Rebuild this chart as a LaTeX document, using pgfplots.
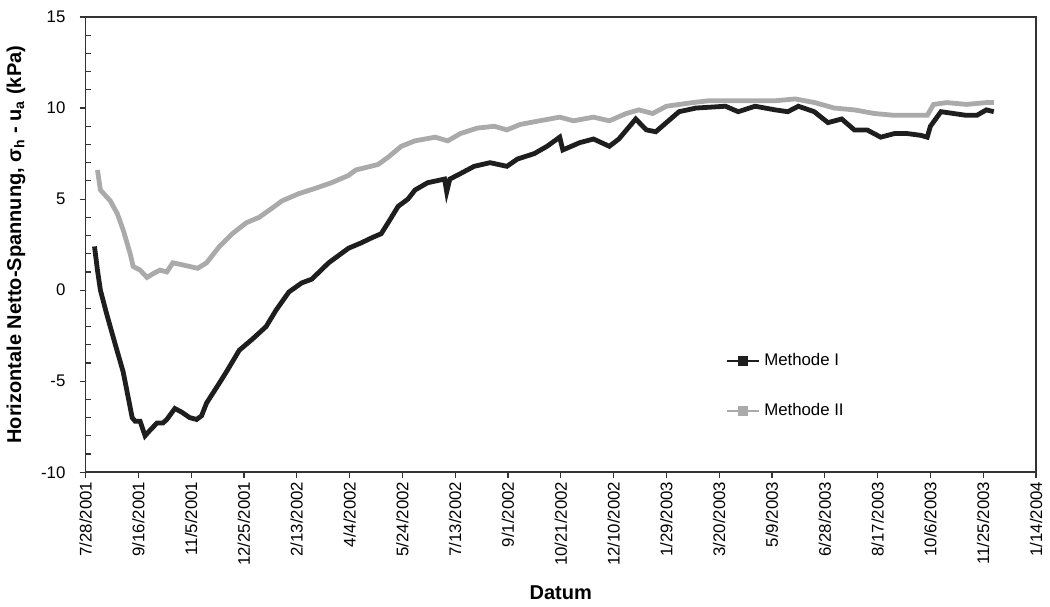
\documentclass[border=0pt]{standalone}
\usepackage{fontspec}
\setmainfont{Liberation Sans}
\usepackage{pgfplots}
\pgfplotsset{compat=1.18}

\definecolor{meth1}{RGB}{30,30,30}
\definecolor{meth2}{RGB}{170,170,170}

% x = Tage ab 28.7.2001
\pgfplotstableread{
day val
8.5 2.4
11.3 1.1
14.1 0.0
20 -1.3
26.3 -2.6
35.7 -4.5
44.2 -7.0
47 -7.2
51.7 -7.2
56.4 -8.0
61 -7.7
67.6 -7.3
73.3 -7.3
77 -7.1
84.6 -6.5
91.1 -6.7
98.6 -7.0
105.2 -7.1
109.9 -6.9
114.6 -6.2
126.8 -5.1
134.3 -4.4
145.6 -3.3
157.8 -2.7
171 -2.0
180.4 -1.1
192.6 -0.1
204.8 0.4
214.2 0.6
230.2 1.5
249 2.3
261.2 2.6
272 2.9
280 3.1
286.5 3.7
296 4.6
305.3 5.0
312 5.5
324 5.9
340 6.1
342 5.4
345 6.1
355 6.4
368 6.8
383 7.0
399 6.8
409 7.2
425 7.5
437 7.9
449 8.4
452 7.7
456 7.8
468 8.1
481 8.3
496 7.9
505 8.3
521 9.4
531 8.8
540 8.7
550 9.2
562 9.8
578 10.0
606 10.1
618 9.8
634 10.1
653 9.9
665 9.8
675 10.1
690 9.8
703 9.2
716 9.4
728 8.8
740 8.8
753 8.4
766 8.6
778 8.6
791 8.5
797 8.4
800 9.0
810 9.8
822 9.7
834 9.6
844 9.6
853 9.9
860 9.8
}\methodeI

\pgfplotstableread{
day val
11.3 6.6
14.1 5.5
23.5 4.9
30.1 4.2
35.7 3.3
42.3 2.0
45.1 1.3
51.7 1.1
58.2 0.7
63.9 0.9
70.5 1.1
77 1.0
82.7 1.5
91.1 1.4
98.6 1.3
106.2 1.2
114.6 1.5
126.8 2.4
139 3.1
152.2 3.7
164.4 4.0
176.6 4.5
186 4.9
202 5.3
218 5.6
233 5.9
249 6.3
256 6.6
277 6.9
286.5 7.3
299 7.9
312 8.2
331 8.4
343 8.2
355 8.6
371 8.9
387 9.0
399 8.8
411.5 9.1
430 9.3
449 9.5
462 9.3
481 9.5
496 9.3
512 9.7
524 9.9
537 9.7
550 10.1
575 10.3
590 10.4
622 10.4
653 10.4
672 10.5
690.5 10.3
709 10.0
728 9.9
747 9.7
766 9.6
784 9.6
797 9.6
803 10.2
815.5 10.3
834 10.2
853 10.3
860 10.3
}\methodeII

\begin{document}
\begin{tikzpicture}
\begin{axis}[
    scale only axis,
    width=475pt,
    height=227.5pt,
    xmin=0, xmax=900,
    ymin=-10, ymax=15,
    xtick={0,50,...,900},
    xticklabels={7/28/2001,9/16/2001,11/5/2001,12/25/2001,2/13/2002,4/4/2002,5/24/2002,7/13/2002,9/1/2002,10/21/2002,12/10/2002,1/29/2003,3/20/2003,5/9/2003,6/28/2003,8/17/2003,10/6/2003,11/25/2003,1/14/2004},
    x tick label style={yshift=-1.5pt, rotate=90, anchor=east, inner sep=0pt, font=\fontsize{8.4}{10}\selectfont},
    ytick={-10,-5,0,5,10,15},
    minor y tick num=4,
    y tick label style={xshift=-3.5pt, font=\fontsize{8.4}{10}\selectfont},
    /pgf/number format/assume math mode=true,
    tick align=outside,
    tick pos=left,
    major tick length=3pt,
    minor tick length=2.5pt,
    minor y tick style={xshift=2.5pt},
    every tick/.style={black!80, line width=0.6pt},
    axis line style={black!80, line width=0.8pt},
    xlabel={\bfseries Datum},
    ylabel={\bfseries Horizontale Netto-Spannung, σ\textsubscript{h} - u\textsubscript{a} (kPa)},
    label style={font=\fontsize{10}{12}\selectfont},
    xlabel style={yshift=-6.5pt},
    ylabel style={yshift=1pt},
    reverse legend,
    legend cell align=left,
    legend style={at={(axis cs:601,-3.0)}, anchor=north west, draw=none, fill=none,
        font=\fontsize{8.4}{10}\selectfont, row sep=13.5pt},
    legend image code/.code={%
        \draw[#1, line width=0.8pt] (0pt,0pt) -- (16pt,0pt);
        \fill[#1] (6.7pt,-1.4pt) rectangle (9.3pt,1.4pt);},
]
\addplot[color=meth2, line width=2.4pt, line join=miter] table[x=day, y=val] {\methodeII};
\addplot[color=meth1, line width=2.4pt, line join=miter] table[x=day, y=val] {\methodeI};
\legend{Methode II, Methode I}
\end{axis}
\path ([xshift=-42.5pt, yshift=8.5pt]current axis.north west);
\path ([xshift=7pt]current axis.south east);
\end{tikzpicture}
\end{document}
